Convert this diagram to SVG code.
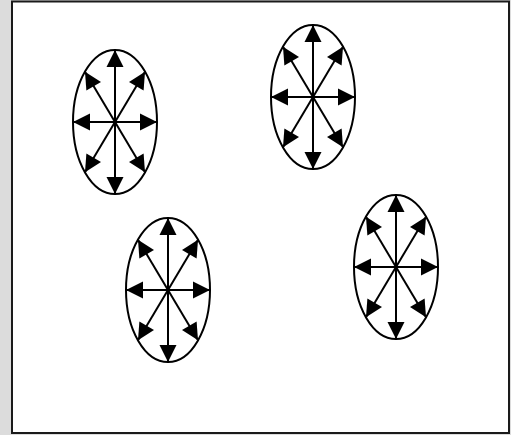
<svg xmlns="http://www.w3.org/2000/svg" xmlns:xlink="http://www.w3.org/1999/xlink" width="511" height="435" viewBox="0 0 511 435">
<style>
.el{fill:none;stroke:#000;stroke-width:2}
.ar{stroke:#000;stroke-width:2;fill:none;marker-end:url(#ah)}
</style>
<defs>
<marker id="ah" markerUnits="userSpaceOnUse" markerWidth="17" markerHeight="17" refX="16" refY="8.5" orient="auto" overflow="visible">
<path d="M0,0 L17,8.5 L0,17 z" fill="#000"/>
</marker>
<g id="star">
<ellipse class="el" cx="0" cy="0" rx="42" ry="72"/>
<line class="ar" x1="0" y1="0" x2="0" y2="-71"/>
<line class="ar" x1="0" y1="0" x2="0" y2="71"/>
<line class="ar" x1="0" y1="0" x2="41" y2="0"/>
<line class="ar" x1="0" y1="0" x2="-41" y2="0"/>
<line class="ar" x1="0" y1="0" x2="29.5" y2="-49.5"/>
<line class="ar" x1="0" y1="0" x2="-29.5" y2="-49.5"/>
<line class="ar" x1="0" y1="0" x2="29.5" y2="49.5"/>
<line class="ar" x1="0" y1="0" x2="-29.5" y2="49.5"/>
</g>
</defs>
<rect x="0" y="0" width="511" height="435" fill="#dcdcdc"/>
<rect x="12" y="1.5" width="497" height="431.5" fill="#fff" stroke="#1a1a1a" stroke-width="2"/>
<g id="node1"><use xlink:href="#star" x="115" y="122"/></g>
<g id="node2"><use xlink:href="#star" x="313" y="97"/></g>
<g id="node3"><use xlink:href="#star" x="168" y="290"/></g>
<g id="node4"><use xlink:href="#star" x="396" y="267"/></g>
<g id="connectors"></g>
</svg>
